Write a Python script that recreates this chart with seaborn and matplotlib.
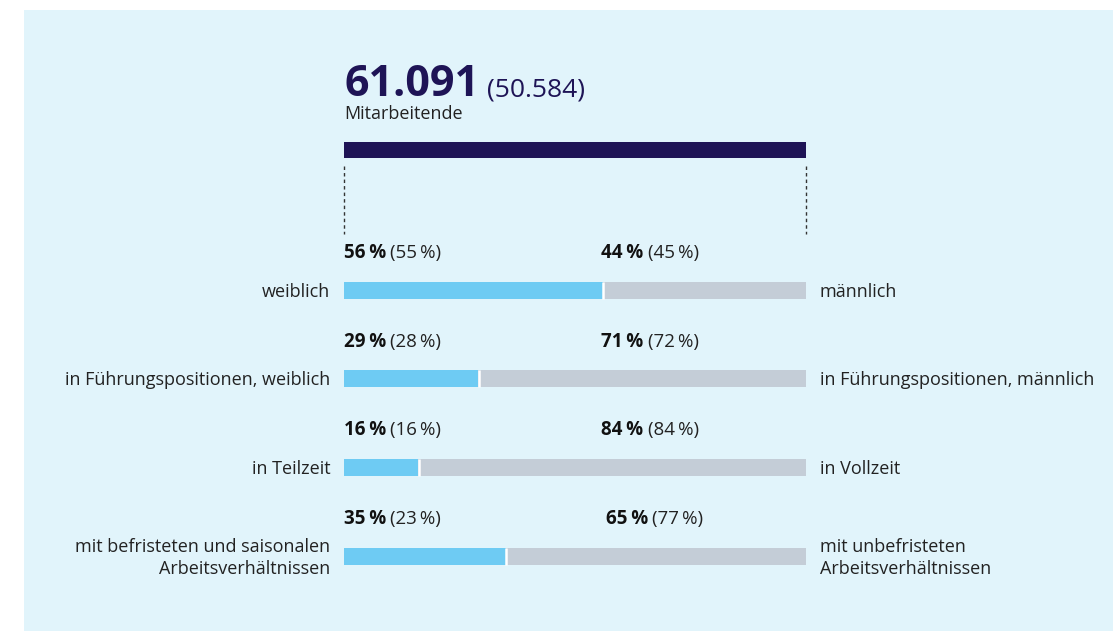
import matplotlib
matplotlib.use("Agg")
import matplotlib.pyplot as plt
import seaborn as sns
import pandas as pd
from matplotlib.patches import Rectangle

# ---- data ----
total_now = "61.091"
total_prev = "(50.584)"
total_label = "Mitarbeitende"

left_labels = ["weiblich", "in Führungspositionen, weiblich", "in Teilzeit",
               "mit befristeten und saisonalen\nArbeitsverhältnissen"]
right_labels = ["männlich", "in Führungspositionen, männlich", "in Vollzeit",
                "mit unbefristeten\nArbeitsverhältnissen"]
left_share = [56, 29, 16, 35]
left_prev = [55, 28, 16, 23]
right_share = [44, 71, 84, 65]
right_prev = [45, 72, 84, 77]

# ---- layout / style ----
right_label_x = [55.7, 55.7, 55.7, 56.7]
BG = "#E1F4FB"
NAVY = "#1E1456"
BLUE = "#6ECBF3"
GREY = "#C4CDD7"
TXT = "#222222"
FONT = ["Open Sans", "DejaVu Sans"]

sns.set_theme(style="white")
plt.rcParams["font.family"] = FONT

W, H = 1113, 631
fig = plt.figure(figsize=(W / 100, H / 100), dpi=100, facecolor="white")
fig.patches.append(Rectangle((24 / W, 0), 1 - 24 / W, (H - 10) / H,
                             transform=fig.transFigure, facecolor=BG,
                             edgecolor="none", zorder=-10))

spacing = 88.67
row0 = 290
ylo, yhi = -2.5, 3.5
top_px = row0 + ylo * spacing
bot_px = row0 + yhi * spacing
ax = fig.add_axes([344 / W, (H - bot_px) / H, 462 / W, (bot_px - top_px) / H])
ax.set_facecolor("none")

df = pd.DataFrame({
    "row": list(range(4)),
    "left": left_share,
    "total": [l + r for l, r in zip(left_share, right_share)],
})

bar_h = 17 / spacing
sns.barplot(data=df, x="total", y="row", orient="h", color=GREY,
            width=bar_h, ax=ax, saturation=1, order=list(range(4)),
            linewidth=0, edgecolor="none")
sns.barplot(data=df, x="left", y="row", orient="h", color=BLUE,
            width=bar_h, ax=ax, saturation=1, order=list(range(4)),
            linewidth=0, edgecolor="none")
# white separators between segments
for i, v in enumerate(left_share):
    ax.vlines(v + 0.15, i - bar_h / 2, i + bar_h / 2, color="white", lw=1.8, zorder=5)

# top total bar
ax.barh([-1.579], [100], height=16 / spacing, color=NAVY, left=0, linewidth=0)
# dotted guides
for xv in (0, 100):
    ax.vlines(xv, (166 - row0) / spacing, (234 - row0) / spacing,
              colors="#333333", lw=1, linestyles=(0, (2.5, 2.2)), clip_on=False)

ax.set_xlim(0, 100)
ax.set_ylim(yhi, ylo)
ax.axis("off")

# headline
t_big = ax.text(0, (96 - row0) / spacing, total_now, fontsize=31, fontweight="bold",
                color=NAVY, va="baseline", ha="left", clip_on=False)
ax.annotate(total_prev, xy=(1, (96 - row0) / spacing), xycoords=(t_big, ax.transData),
            xytext=(6, 0), textcoords="offset points", fontsize=19, color=NAVY,
            va="baseline", ha="left", annotation_clip=False)
ax.text(0, (119 - row0) / spacing, total_label, fontsize=13, color=TXT,
        va="baseline", ha="left")

lab_off = (258 - row0) / spacing
for i in range(4):
    yb = i + lab_off
    tb = ax.text(0, yb, f"{left_share[i]}\u2009%", fontsize=13.5, fontweight="bold",
                 color="#111111", va="baseline", ha="left")
    ax.annotate(f"({left_prev[i]}\u2009%)", xy=(1, yb), xycoords=(tb, ax.transData),
                xytext=(3, 0), textcoords="offset points", fontsize=13.5,
                color=TXT, va="baseline", ha="left", annotation_clip=False)
    tb2 = ax.text(right_label_x[i], yb, f"{right_share[i]}\u2009%", fontsize=13.5,
                  fontweight="bold", color="#111111", va="baseline", ha="left")
    ax.annotate(f"({right_prev[i]}\u2009%)", xy=(1, yb), xycoords=(tb2, ax.transData),
                xytext=(3, 0), textcoords="offset points", fontsize=13.5,
                color=TXT, va="baseline", ha="left", annotation_clip=False)
    ax.text(-3.0, i + 0.02, left_labels[i], fontsize=13, color=TXT,
            ha="right", va="center", multialignment="right", linespacing=1.3,
            clip_on=False)
    ax.text(103.0, i + 0.02, right_labels[i], fontsize=13, color=TXT,
            ha="left", va="center", multialignment="left", linespacing=1.3,
            clip_on=False)

fig.savefig("out.png", dpi=100, facecolor="white")
